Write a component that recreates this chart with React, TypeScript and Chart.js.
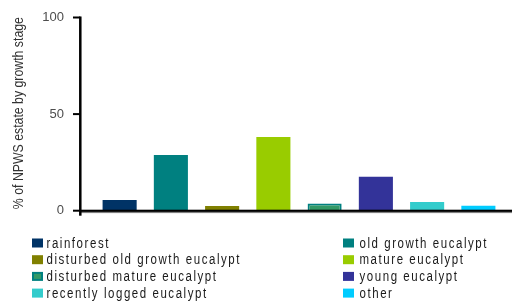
import React, { useEffect, useRef } from "react";
import { Chart, registerables } from "chart.js";

Chart.register(...registerables);

const categories = [
  "rainforest",
  "old growth eucalypt",
  "disturbed old growth eucalypt",
  "mature eucalypt",
  "disturbed mature eucalypt",
  "young eucalypt",
  "recently logged eucalypt",
  "other",
];
const values = [5.5, 28.8, 2.4, 38.1, 3.7, 17.6, 4.5, 2.6];
const fillColors = ["#003366", "#008080", "#808000", "#99CC00", "#339966", "#333399", "#33CCCC", "#00CCFF"];
const borderColors = ["#003366", "#008080", "#808000", "#99CC00", "#008080", "#333399", "#33CCCC", "#00CCFF"];
const borderWidths = [0, 0, 0, 0, 2, 0, 0, 0];
const yTicks = [0, 50, 100];
const yTitle = "% of NPWS estate by growth stage";

const axesAndLegend = {
  id: "axesAndLegend",
  afterDraw(chart: any) {
    const ctx = chart.ctx as CanvasRenderingContext2D;
    const y = chart.scales.y;
    const area = chart.chartArea;
    const axisX = 80.3;
    ctx.save();
    const y0 = y.getPixelForValue(0);
    ctx.fillStyle = "#808080";
    ctx.fillRect(axisX, y0 + 1.2, 512 - axisX, 1.2);
    ctx.fillStyle = "#000";
    ctx.fillRect(axisX, y0 - 1, 512 - axisX, 2.2);
    const yTop = y.getPixelForValue(100);
    ctx.fillRect(axisX - 1.25, yTop - 1, 2.5, y0 + 6 - yTop);
    yTicks.forEach((t) => {
      const py = y.getPixelForValue(t);
      ctx.fillRect(73, py - 1, axisX - 73, 2);
    });
    // condensed y-axis title
    ctx.save();
    ctx.translate(19, (area.top + area.bottom) / 2 - 1);
    ctx.rotate(-Math.PI / 2);
    ctx.scale(0.82, 1);
    ctx.font = "15px 'Liberation Sans', Arial, sans-serif";
    ctx.textAlign = "center";
    ctx.textBaseline = "middle";
    ctx.fillStyle = "#333";
    ctx.fillText(yTitle, 0, 0);
    ctx.restore();
    // legend
    const rowTop = [238.5, 255.2, 271.9, 288.6];
    categories.forEach((c, i) => {
      const col = i % 2;
      const row = Math.floor(i / 2);
      const bx = col === 0 ? 32 : 343;
      const tx = col === 0 ? 46.5 : 359.5;
      const top = rowTop[row];
      ctx.fillStyle = borderColors[i];
      ctx.fillRect(bx, top, 11, 9);
      if (borderWidths[i] > 0) {
        ctx.fillStyle = fillColors[i];
        ctx.fillRect(bx + 2, top + 2, 7, 5);
      }
      ctx.save();
      ctx.translate(tx, top + 9);
      ctx.scale(0.82, 1);
      ctx.font = "14px 'Liberation Sans', Arial, sans-serif";
      (ctx as any).letterSpacing = "1.9px";
      ctx.textBaseline = "alphabetic";
      ctx.textAlign = "left";
      ctx.fillStyle = "#1a1a1a";
      ctx.fillText(c, 0, 0);
      ctx.restore();
    });
    ctx.restore();
  },
};

export default function App() {
  const ref = useRef<HTMLCanvasElement>(null);
  useEffect(() => {
    if (!ref.current) return;
    const chart = new Chart(ref.current, {
      type: "bar",
      data: {
        labels: categories,
        datasets: [
          {
            data: values,
            backgroundColor: fillColors,
            borderColor: borderColors,
            borderWidth: borderWidths,
            barPercentage: 0.665,
            categoryPercentage: 1,
          },
        ],
      },
      options: {
        responsive: false,
        animation: false,
        layout: { padding: { top: 17.5, bottom: 91.3, right: 8, left: 0 } },
        plugins: { legend: { display: false }, tooltip: { enabled: false } },
        scales: {
          x: { display: false },
          y: {
            min: 0,
            max: 100,
            afterFit: (s: any) => {
              s.width = 94;
              s.paddingTop = 0;
              s.paddingBottom = 0;
            },
            afterBuildTicks: (s: any) => {
              s.ticks = yTicks.map((v) => ({ value: v }));
            },
            grid: { display: false, drawTicks: false },
            border: { display: false },
            ticks: {
              padding: 30,
              color: "#4d4d4d",
              font: { family: "'Liberation Sans', Arial, sans-serif", size: 13 },
            },
            title: { display: false, text: yTitle },
          },
        },
      },
      plugins: [axesAndLegend],
    });
    return () => chart.destroy();
  }, []);
  return (
    <div style={{ position: "fixed", left: 0, top: 0, width: 512, height: 302, background: "#fff" }}>
      <canvas ref={ref} width={512} height={302} style={{ width: 512, height: 302, display: "block" }} />
    </div>
  );
}
